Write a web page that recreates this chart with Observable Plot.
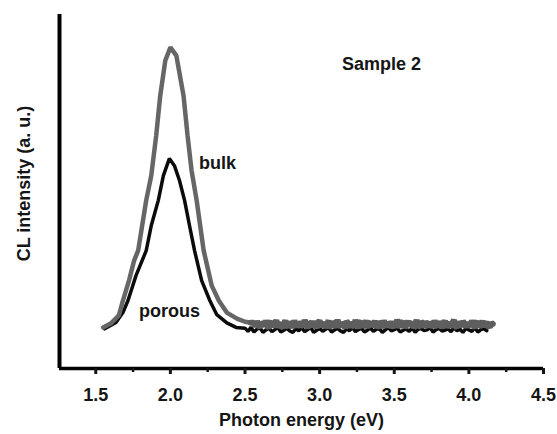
<!DOCTYPE html>
<html>
<head>
<meta charset="utf-8">
<script src="https://cdn.jsdelivr.net/npm/d3@7"></script>
<script src="https://cdn.jsdelivr.net/npm/@observablehq/plot@0.6"></script>
<style>
  html, body { margin: 0; padding: 0; background: #fff; }
  #chart svg { display: block; }
</style>
</head>
<body>
<div id="chart"></div>
<script>
// Photon energy (eV) / CL intensity (a.u., 0–100)
const bulkPeak = [
  [1.55,11.6],[1.60,12.7],[1.655,15.0],[1.682,19.2],[1.723,24.9],[1.757,30.5],[1.784,33.3],
  [1.838,47.5],[1.872,54.5],[1.905,65.8],[1.932,77.1],[1.966,87.0],[2.00,90.7],[2.04,88.4],
  [2.088,77.1],[2.115,65.8],[2.142,55.9],[2.176,47.5],[2.223,33.3],[2.277,23.4],[2.324,19.2],
  [2.378,15.8],[2.446,14.1],[2.50,13.2],[2.54,12.9]
];
const bulkTail = [
  [2.54,12.9],
  [2.56,12.9],[2.57,11.8],[2.58,13.4],[2.59,12.2],[2.60,11.5],[2.61,13.1],[2.62,12.6],[2.63,11.9],[2.64,13.6],[2.65,12.0],
  [2.66,11.4],[2.67,12.8],[2.68,13.3],[2.69,11.7],[2.70,12.5],[2.71,13.7],[2.72,11.6],[2.73,12.3],[2.74,13.0],[2.75,11.3],
  [2.76,12.7],[2.77,13.5],[2.78,12.1],[2.79,11.8],[2.80,13.2],[2.81,12.4],[2.82,11.5],[2.83,13.6],[2.84,12.0],[2.85,12.9],
  [2.86,11.6],[2.87,13.3],[2.88,12.2],[2.89,11.9],[2.90,13.7],[2.91,12.5],[2.92,11.4],[2.93,13.0],[2.94,12.8],[2.95,11.7],
  [2.96,13.4],[2.97,12.1],[2.98,11.5],[2.99,12.9],[3.00,13.6],[3.01,11.8],[3.02,12.3],[3.03,13.1],[3.04,11.4],[3.05,12.7],
  [3.06,13.5],[3.07,12.0],[3.08,11.7],[3.09,13.3],[3.10,12.6],[3.11,11.5],[3.12,13.8],[3.13,12.2],[3.14,11.9],[3.15,13.0],
  [3.16,12.4],[3.17,11.3],[3.18,13.4],[3.19,12.8],[3.20,11.6],[3.21,13.2],[3.22,12.1],[3.23,11.8],[3.24,13.7],[3.25,12.5],
  [3.26,11.4],[3.27,12.9],[3.28,13.3],[3.29,11.7],[3.30,12.2],[3.31,13.6],[3.32,11.5],[3.33,12.8],[3.34,13.1],[3.35,11.9],
  [3.36,12.4],[3.37,13.5],[3.38,11.6],[3.39,12.0],[3.40,13.2],[3.41,12.7],[3.42,11.4],[3.43,13.6],[3.44,12.3],[3.45,11.8],
  [3.46,13.0],[3.47,12.6],[3.48,11.5],[3.49,13.4],[3.50,12.1],[3.51,11.7],[3.52,13.8],[3.53,12.4],[3.54,11.6],[3.55,12.9],
  [3.56,13.3],[3.57,11.5],[3.58,12.2],[3.59,13.5],[3.60,11.9],[3.61,12.7],[3.62,13.1],[3.63,11.4],[3.64,12.5],[3.65,13.7],
  [3.66,11.8],[3.67,12.0],[3.68,13.2],[3.69,12.8],[3.70,11.6],[3.71,13.4],[3.72,12.3],[3.73,11.7],[3.74,13.0],[3.75,12.6],
  [3.76,11.5],[3.77,13.6],[3.78,12.1],[3.79,11.9],[3.80,13.3],[3.81,12.4],[3.82,11.4],[3.83,12.8],[3.84,13.5],[3.85,11.7],
  [3.86,12.2],[3.87,13.1],[3.88,11.6],[3.89,12.9],[3.90,13.7],[3.91,12.0],[3.92,11.5],[3.93,13.2],[3.94,12.5],[3.95,11.8],
  [3.96,13.4],[3.97,12.7],[3.98,11.6],[3.99,13.0],[4.00,12.3],[4.01,11.9],[4.02,13.6],[4.03,12.1],[4.04,11.5],[4.05,12.8],
  [4.06,13.3],[4.07,11.7],[4.08,12.4],[4.09,13.5],[4.10,11.8],[4.11,12.6],[4.12,13.1],[4.13,12.0],[4.14,11.6],[4.15,12.9],
  [4.16,12.6]
];
const porousPeak = [
  [1.56,11.2],[1.635,13.0],[1.682,15.8],[1.716,19.2],[1.77,26.3],[1.838,33.3],[1.872,40.4],
  [1.919,47.5],[1.953,54.5],[1.993,59.3],[2.027,57.3],[2.061,53.1],[2.095,47.5],[2.128,40.4],
  [2.162,33.3],[2.209,24.9],[2.264,19.2],[2.311,15.2],[2.378,12.9],[2.44,11.6]
];
const porousTail = [
  [2.50,11.4],[2.52,10.5],[2.54,11.6],[2.56,10.3],[2.58,11.1],[2.60,11.5],[2.62,10.2],[2.64,10.9],[2.66,11.4],[2.68,10.4],
  [2.70,11.0],[2.72,11.6],[2.74,10.3],[2.76,10.8],[2.78,11.4],[2.80,10.6],[2.82,10.2],[2.84,11.2],[2.86,10.7],[2.88,11.5],
  [2.90,10.4],[2.92,11.0],[2.94,11.6],[2.96,10.2],[2.98,10.8],[3.00,11.3],[3.02,10.5],[3.04,11.1],[3.06,11.5],[3.08,10.3],
  [3.10,10.9],[3.12,11.4],[3.14,10.6],[3.16,10.2],[3.18,11.2],[3.20,10.7],[3.22,11.6],[3.24,10.4],[3.26,11.0],[3.28,11.4],
  [3.30,10.3],[3.32,10.8],[3.34,11.5],[3.36,10.5],[3.38,11.1],[3.40,11.3],[3.42,10.2],[3.44,10.9],[3.46,11.6],[3.48,10.6],
  [3.50,11.0],[3.52,11.4],[3.54,10.3],[3.56,10.8],[3.58,11.2],[3.60,10.5],[3.62,11.5],[3.64,10.2],[3.66,11.1],[3.68,11.3],
  [3.70,10.7],[3.72,10.9],[3.74,11.6],[3.76,10.3],[3.78,11.0],[3.80,11.4],[3.82,10.6],[3.84,10.8],[3.86,11.2],[3.88,10.4],
  [3.90,11.5],[3.92,10.7],[3.94,11.1],[3.96,10.2],[3.98,11.3],[4.00,10.9],[4.02,10.5],[4.04,11.6],[4.06,10.3],[4.08,11.0],
  [4.10,11.2],[4.12,10.7]
];
const xTicks = [1.5, 2.0, 2.5, 3.0, 3.5, 4.0, 4.5];
const xMinorTicks = [1.75, 2.25, 2.75, 3.25, 3.75, 4.25];
const xDomain = [1.257, 4.5];
const yDomain = [0, 100];
const xLabel = "Photon energy (eV)";
const yLabel = "CL intensity (a. u.)";
const sampleLabel = "Sample 2";
const seriesNames = ["bulk", "porous"];

const toXY = arr => arr.map(([x, y]) => ({x, y}));
const porous = toXY(porousPeak.concat(porousTail));

const txt = {fill: "#151515", fontSize: 18, fontWeight: "bold"};

const chart = Plot.plot({
  width: 557,
  height: 434,
  marginLeft: 59,
  marginRight: 14,
  marginTop: 14,
  marginBottom: 66,
  style: {fontFamily: "'Liberation Sans', Arial, sans-serif", background: "#fff", color: "#151515"},
  x: {domain: xDomain},
  y: {domain: yDomain, axis: null},
  marks: [
    Plot.line(porous, {x: "x", y: "y", stroke: "#0b0b0b", strokeWidth: 3.5, strokeLinejoin: "miter"}),
    Plot.line(toXY(bulkPeak), {x: "x", y: "y", stroke: "#666", strokeWidth: 4.5, strokeLinejoin: "miter"}),
    Plot.line(toXY(bulkTail), {x: "x", y: "y", stroke: "#5e5e5e", strokeWidth: 6, strokeLinejoin: "miter"}),
    Plot.ruleX([xDomain[0]], {stroke: "#000", strokeWidth: 4}),
    Plot.ruleY([yDomain[0]], {stroke: "#000", strokeWidth: 3.5}),
    Plot.axisX({ticks: xTicks, tickFormat: d => d.toFixed(1), tickSize: 6, tickPadding: 14,
      strokeWidth: 3, fontSize: 18, fontWeight: "bold", label: null, color: "#151515"}),
    Plot.axisX({ticks: xMinorTicks, tickFormat: () => "", tickSize: 4, strokeWidth: 2.5, label: null}),
    Plot.text([xLabel], {...txt, frameAnchor: "bottom", lineAnchor: "middle", dy: 52}),
    Plot.text([yLabel], {...txt, frameAnchor: "left", textAnchor: "middle", lineAnchor: "middle", rotate: -90, dx: -35, dy: -8}),
    Plot.text([sampleLabel], {...txt, x: 3.415, y: 85.9}),
    Plot.text([seriesNames[0]], {...txt, x: 2.316, y: 57.9}),
    Plot.text([seriesNames[1]], {...txt, x: 1.994, y: 16.2})
  ]
});
document.getElementById("chart").appendChild(chart);
</script>
</body>
</html>
